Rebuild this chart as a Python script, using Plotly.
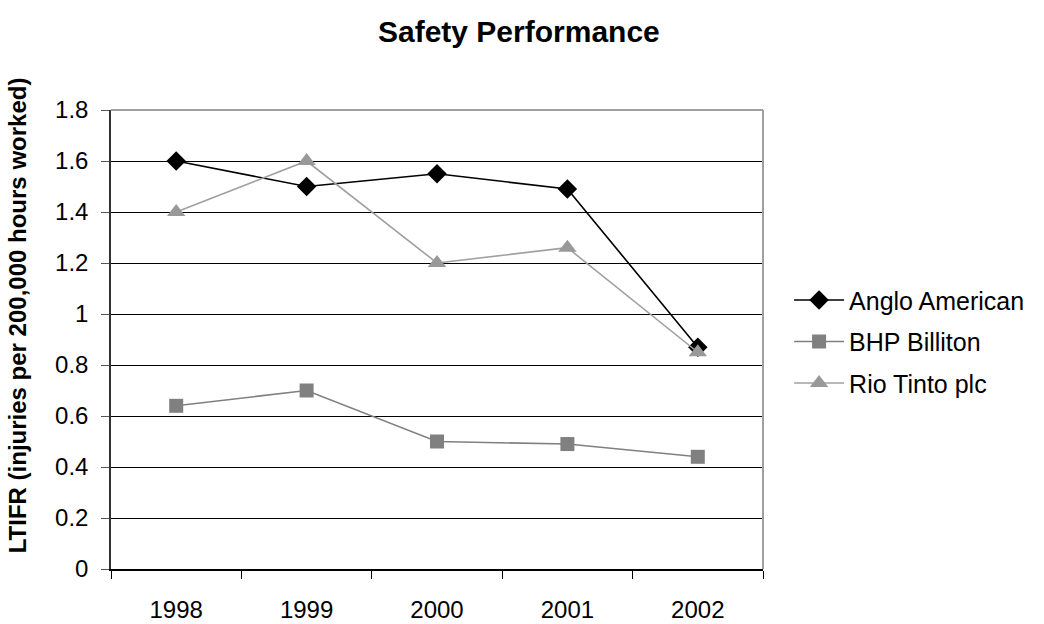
import plotly.graph_objects as go

years = ["1998", "1999", "2000", "2001", "2002"]
anglo_american = [1.60, 1.50, 1.55, 1.49, 0.87]
bhp_billiton = [0.64, 0.70, 0.50, 0.49, 0.44]
rio_tinto = [1.40, 1.60, 1.20, 1.26, 0.85]

y_ticks = [0, 0.2, 0.4, 0.6, 0.8, 1.0, 1.2, 1.4, 1.6, 1.8]
y_tick_text = ["0", "0.2", "0.4", "0.6", "0.8", "1", "1.2", "1.4", "1.6", "1.8"]

FONT = "Liberation Sans, Arial, sans-serif"

fig = go.Figure()

series = [
    ("Anglo American", anglo_american, "#000000", "#000000", "diamond", 15),
    ("BHP Billiton", bhp_billiton, "#808080", "#808080", "square", 14),
    ("Rio Tinto plc", rio_tinto, "#a0a0a0", "#999999", "triangle-up", 16),
]

for name, values, line_color, marker_color, symbol, size in series:
    fig.add_trace(go.Scatter(
        x=years, y=values, name=name, mode="lines+markers",
        legendgroup=name,
        line=dict(color=line_color, width=1.6),
        marker=dict(symbol=symbol, size=size, color=marker_color,
                    line=dict(width=0)),
        cliponaxis=False,
    ))

fig.update_layout(
    width=1044, height=624,
    margin=dict(l=111, r=281, t=110, b=55),
    paper_bgcolor="white", plot_bgcolor="white",
    font=dict(family=FONT, size=24, color="#000000"),
    title=dict(text="<b>Safety Performance</b>", x=0.497, xanchor="center",
               y=0.95, yanchor="middle",
               font=dict(family=FONT, size=30, color="#000000")),
    showlegend=True,
    legend=dict(x=1.04, xanchor="left", y=0.495, yanchor="middle",
                font=dict(family=FONT, size=25, color="#000000"),
                traceorder="grouped", tracegroupgap=6, itemwidth=50,
                bgcolor="rgba(0,0,0,0)"),
    xaxis=dict(
        type="category", range=[-0.5, 4.5], automargin=False,
        showgrid=False, zeroline=False,
        showline=True, linecolor="#000000", linewidth=1.5,
        ticks="outside", ticklen=8, tickcolor="#000000", tickwidth=1,
        tickson="boundaries", ticklabelstandoff=18,
        tickfont=dict(family=FONT, size=24, color="#000000"),
    ),
    yaxis=dict(
        range=[0, 1.8], tickvals=y_ticks, ticktext=y_tick_text,
        automargin=False,
        showgrid=True, gridcolor="#000000", gridwidth=1,
        zeroline=False,
        showline=True, linecolor="#333333", linewidth=1.5,
        ticks="outside", ticklen=8, tickcolor="#555555", tickwidth=1,
        ticklabelstandoff=8,
        tickfont=dict(family=FONT, size=24, color="#000000"),
    ),
    annotations=[
        dict(text="<b>LTIFR (injuries per 200,000 hours worked)</b>",
             xref="paper", yref="paper", x=-0.144, y=0.553,
             xanchor="center", yanchor="middle", textangle=-90,
             showarrow=False,
             font=dict(family=FONT, size=24, color="#000000")),
    ],
    shapes=[
        dict(type="line", xref="paper", yref="paper", x0=0, x1=1, y0=1, y1=1,
             line=dict(color="#a0a0a0", width=2), layer="above"),
        dict(type="line", xref="paper", yref="paper", x0=1, x1=1, y0=0, y1=1,
             line=dict(color="#a0a0a0", width=2), layer="above"),
    ],
)

fig.write_html("out.html")
